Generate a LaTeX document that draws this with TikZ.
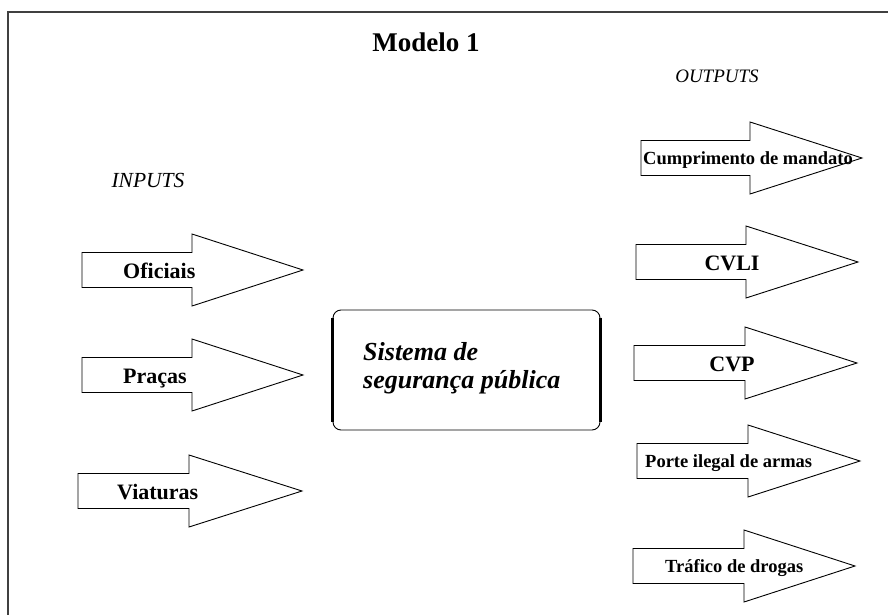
\documentclass[tikz,border=0pt]{standalone}
\usepackage{fontspec}
\setmainfont{Liberation Serif}
\newcommand\fatarrow[5]{% name, tail x, head base x, tip x, centre y
  \draw[bigarrow] (#2,#5-17.5) -- (#3,#5-17.5) -- (#3,#5-36) -- (#4,#5)
    -- (#3,#5+36) -- (#3,#5+17.5) -- (#2,#5+17.5) -- cycle;
  \coordinate (#1) at (#2,#5);
}
\begin{document}
\begin{tikzpicture}[x=1pt,y=-1pt,
  frame/.style={draw=black!75, line width=1.5pt},
  bigarrow/.style={draw=black, line width=0.9pt, fill=white, line join=miter},
  lbl/.style={inner sep=0pt, anchor=base west, font=\bfseries\fontsize{22}{26}\selectfont},
  lblc/.style={inner sep=0pt, anchor=base, font=\bfseries\fontsize{22}{26}\selectfont},
  lblsmall/.style={inner sep=0pt, anchor=base west, font=\bfseries\fontsize{18.5}{22}\selectfont},
  sysbox/.style={draw=black, line width=0.9pt, rounded corners=8pt, minimum width=267, minimum height=120, inner sep=0pt},
  systxt/.style={inner sep=0pt, anchor=base west, font=\bfseries\itshape\fontsize{26}{28}\selectfont},
  head/.style={inner sep=0pt, font=\itshape\fontsize{19}{22}\selectfont}]
\useasboundingbox (0,0) rectangle (888,615);
\clip (0,0) rectangle (888,615);
\draw[frame] (8,625) -- (8,12) -- (900,12);

\node[inner sep=0pt, font=\bfseries\fontsize{27}{30}\selectfont] (title) at (426,42) {Modelo 1};
\node[head, font=\itshape\fontsize{21.5}{24}\selectfont] (inputs) at (148,180) {INPUTS};
\node[head] (outputs) at (717,76) {OUTPUTS};

% inputs
\fatarrow{aOf}{82}{192}{303}{270}
\fatarrow{aPr}{82}{192}{303}{375}
\fatarrow{aVi}{78}{189}{302}{491}
\node[lbl] (oficiais) at (123,278) {Oficiais};
\node[lbl] (pracas) at (123,383) {Praças};
\node[lbl] (viaturas) at (117,499) {Viaturas};

% system
\node[sysbox] (sys) at (466.5,370) {};
\draw[line width=2.2pt] ([yshift=-8pt]sys.north west) -- ([yshift=8pt]sys.south west);
\draw[line width=2.2pt] ([yshift=-8pt]sys.north east) -- ([yshift=8pt]sys.south east);
\node[systxt] (sys1) at (363,360) {Sistema de};
\node[systxt] (sys2) at (363,388) {segurança pública};

% outputs
\fatarrow{aCu}{641}{750}{862}{158}
\fatarrow{aCV}{636}{746}{858}{262}
\fatarrow{aCP}{634}{745}{857}{363}
\fatarrow{aPo}{637}{748}{860}{461}
\fatarrow{aTr}{633}{744}{855}{566}
\node[lblsmall] (cump) at (643,164.5) {Cumprimento de mandato};
\node[lblc] (cvli) at (732,270) {CVLI};
\node[lblc] (cvp) at (732,371) {CVP};
\node[lblsmall] (porte) at (645,467.5) {Porte ilegal de armas};
\node[lblsmall] (trafico) at (665,572.5) {Tráfico de drogas};
\end{tikzpicture}
\end{document}
